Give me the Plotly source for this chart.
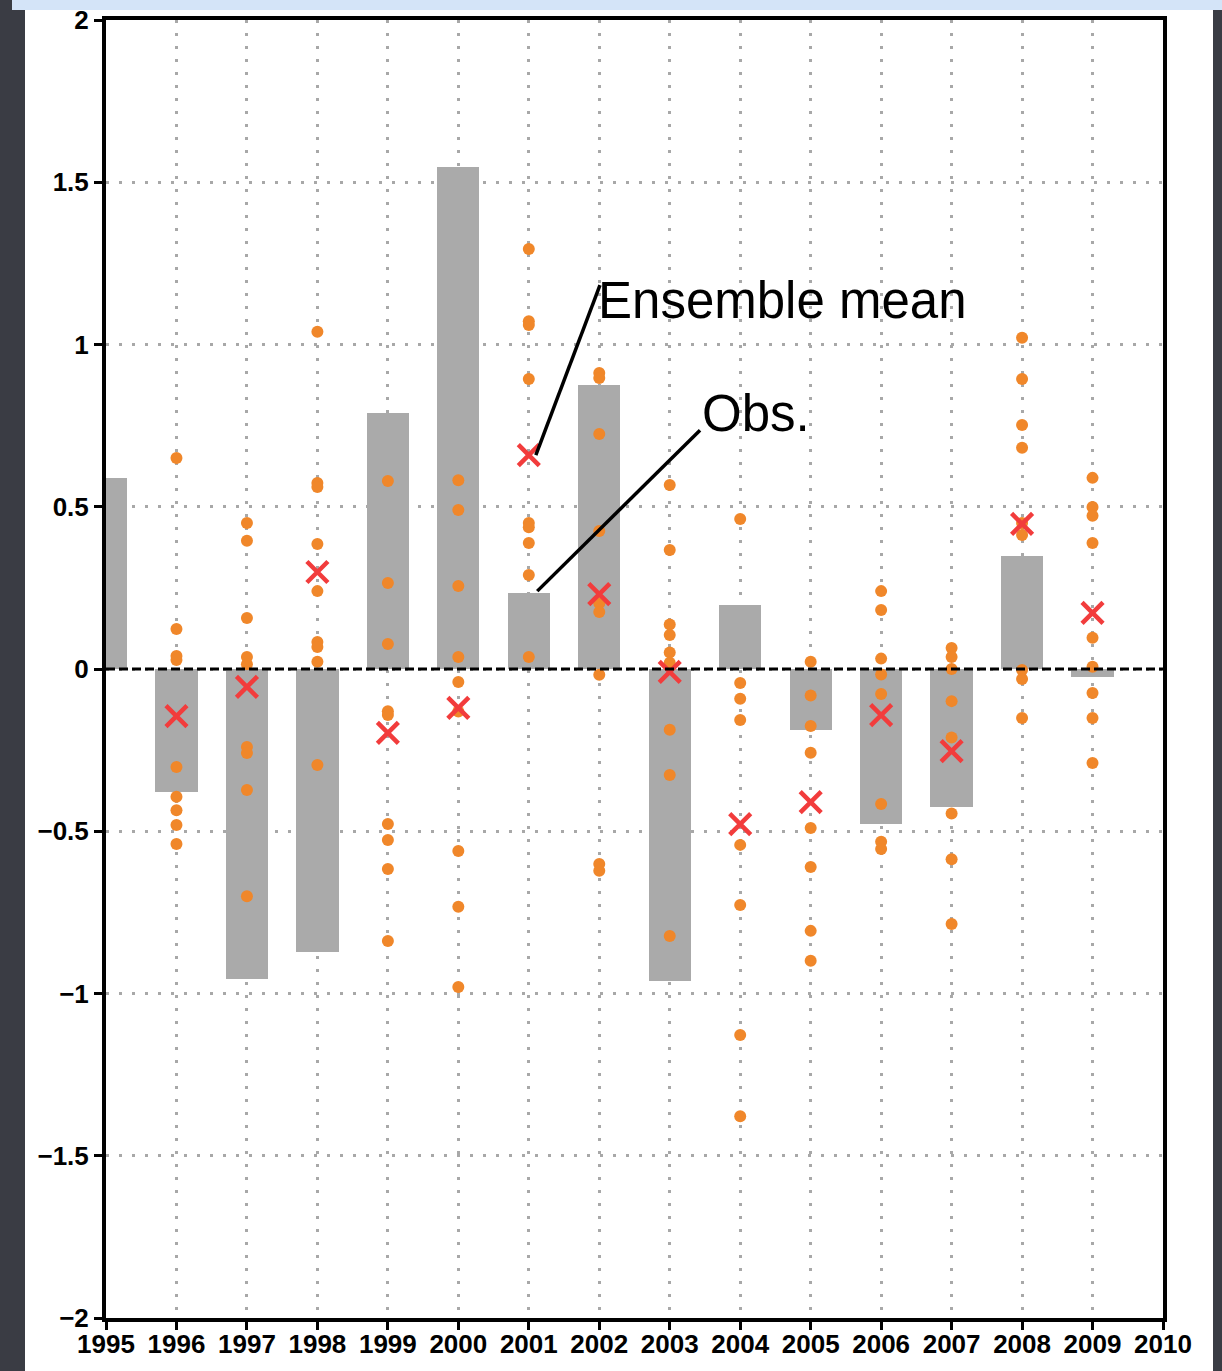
import plotly.graph_objects as go

# ---------------- data ----------------
years = [1995, 1996, 1997, 1998, 1999, 2000, 2001, 2002, 2003, 2004, 2005, 2006, 2007, 2008, 2009]
obs = [0.59, -0.379, -0.955, -0.872, 0.789, 1.547, 0.234, 0.875, -0.961, 0.197, -0.188, -0.478, -0.425, 0.348, -0.025]
ens_years = [1996, 1997, 1998, 1999, 2000, 2001, 2002, 2003, 2004, 2005, 2006, 2007, 2008, 2009]
ens_mean = [-0.145, -0.055, 0.299, -0.197, -0.120, 0.659, 0.231, -0.009, -0.478, -0.410, -0.142, -0.253, 0.447, 0.173]
members = {
    1996: [0.650, 0.123, 0.040, 0.028, -0.302, -0.394, -0.435, -0.481, -0.539],
    1997: [0.450, 0.395, 0.157, 0.037, 0.015, -0.240, -0.259, -0.373, -0.700],
    1998: [1.039, 0.573, 0.561, 0.385, 0.240, 0.083, 0.068, 0.022, -0.296],
    1999: [0.579, 0.265, 0.077, -0.130, -0.142, -0.478, -0.527, -0.616, -0.838],
    2000: [0.582, 0.490, 0.256, 0.037, -0.040, -0.131, -0.561, -0.733, -0.980],
    2001: [1.294, 1.072, 1.060, 0.894, 0.450, 0.437, 0.388, 0.290, 0.037],
    2002: [0.912, 0.897, 0.724, 0.425, 0.203, 0.176, -0.018, -0.601, -0.622],
    2003: [0.567, 0.367, 0.137, 0.105, 0.051, 0.019, -0.187, -0.327, -0.823],
    2004: [0.462, -0.043, -0.092, -0.157, -0.542, -0.727, -1.128, -1.378],
    2005: [0.022, -0.082, -0.176, -0.258, -0.490, -0.610, -0.807, -0.899],
    2006: [0.240, 0.182, 0.032, -0.017, -0.077, -0.416, -0.532, -0.555],
    2007: [0.065, 0.037, 0.000, -0.099, -0.211, -0.445, -0.586, -0.786],
    2008: [1.021, 0.894, 0.752, 0.682, 0.450, 0.413, -0.003, -0.031, -0.151],
    2009: [0.589, 0.499, 0.472, 0.388, 0.096, 0.007, -0.074, -0.151, -0.290],
}
x_tickvals = list(range(1995, 2011))
x_ticklabels = [str(v) for v in x_tickvals]
y_tickvals = [-2, -1.5, -1, -0.5, 0, 0.5, 1, 1.5, 2]
y_ticklabels = ["\u22122", "\u22121.5", "\u22121", "\u22120.5", "0", "0.5", "1", "1.5", "2"]

# annotation pointer lines (data coords: start at mark, end at label)
ens_pointer = [(2001.10, 0.659), (2002.01, 1.183)]
obs_pointer = [(2001.12, 0.240), (2003.43, 0.736)]
ens_label_pos = (2001.96, 1.137)
obs_label_pos = (2003.43, 0.787)

# ---------------- figure ----------------
W, H = 1222, 1371
ML, MR, MT, MB = 106, 59, 20, 53
pw, ph = W - ML - MR, H - MT - MB


def px2paper_x(px):
    return (px - ML) / pw


def px2paper_y(py):
    return (H - MB - py) / ph


mx, my = [], []
for yr, vals in members.items():
    mx += [yr] * len(vals)
    my += vals

fig = go.Figure()
fig.add_trace(go.Bar(x=years, y=obs, width=0.6, marker=dict(color="#aaaaaa", line=dict(width=0)),
                     showlegend=False, hoverinfo="x+y"))
fig.add_trace(go.Scatter(x=mx, y=my, mode="markers",
                         marker=dict(color="#f0872a", size=12, line=dict(width=0)),
                         showlegend=False))
fig.add_trace(go.Scatter(x=ens_years, y=ens_mean, mode="markers",
                         marker=dict(symbol="x-thin", size=21, color="#f23c3c",
                                     line=dict(width=4.5, color="#f23c3c")),
                         showlegend=False))

tickfont = dict(family="Liberation Sans, Arial, sans-serif", size=26, color="black", weight="bold")
axis_common = dict(showgrid=True, gridcolor="#a8a8a8", gridwidth=3, griddash="3px,10px",
                   showline=True, linecolor="black", linewidth=4, mirror=True,
                   ticks="outside", ticklen=8, tickwidth=3, tickcolor="black",
                   tickfont=tickfont, zeroline=False, automargin=False)

fig.update_xaxes(range=[1995, 2010], tickmode="array", tickvals=x_tickvals, ticktext=x_ticklabels,
                 ticklabelstandoff=-8, **axis_common)
fig.update_yaxes(range=[-2, 2], tickmode="array", tickvals=y_tickvals, ticktext=y_ticklabels, **axis_common)

shapes = [
    # slide background (white area)
    dict(type="rect", xref="paper", yref="paper", layer="below",
         x0=px2paper_x(25), x1=px2paper_x(1213), y0=px2paper_y(H + 20), y1=px2paper_y(10),
         fillcolor="white", line=dict(width=0)),
    # light blue title band
    dict(type="rect", xref="paper", yref="paper", layer="below",
         x0=px2paper_x(12), x1=px2paper_x(W + 20), y0=px2paper_y(10), y1=px2paper_y(-20),
         fillcolor="#d4e4f8", line=dict(width=0)),
    # zero line
    dict(type="line", xref="paper", yref="y", x0=0, x1=1, y0=0, y1=0, layer="above",
         line=dict(color="black", width=3, dash="9px,4px")),
    # pointer lines
    dict(type="line", xref="x", yref="y", layer="above",
         x0=ens_pointer[0][0], y0=ens_pointer[0][1], x1=ens_pointer[1][0], y1=ens_pointer[1][1],
         line=dict(color="black", width=3.5)),
    dict(type="line", xref="x", yref="y", layer="above",
         x0=obs_pointer[0][0], y0=obs_pointer[0][1], x1=obs_pointer[1][0], y1=obs_pointer[1][1],
         line=dict(color="black", width=3.5)),
]

annotations = [
    dict(x=ens_label_pos[0], y=ens_label_pos[1], xref="x", yref="y", text="Ensemble mean",
         showarrow=False, xanchor="left", yanchor="middle",
         font=dict(family="Liberation Sans, Arial, sans-serif", size=51, color="black")),
    dict(x=obs_label_pos[0], y=obs_label_pos[1], xref="x", yref="y", text="Obs.",
         showarrow=False, xanchor="left", yanchor="middle",
         font=dict(family="Liberation Sans, Arial, sans-serif", size=51, color="black")),
]

fig.update_layout(
    width=W, height=H,
    margin=dict(l=ML, r=MR, t=MT, b=MB, pad=0),
    paper_bgcolor="#3a3c44",
    plot_bgcolor="white",
    shapes=shapes,
    annotations=annotations,
    bargap=0,
    showlegend=False,
)

fig.write_html("out.html", config={"displayModeBar": False},
               post_script="document.body.style.margin='0';document.body.style.overflow='hidden';")
